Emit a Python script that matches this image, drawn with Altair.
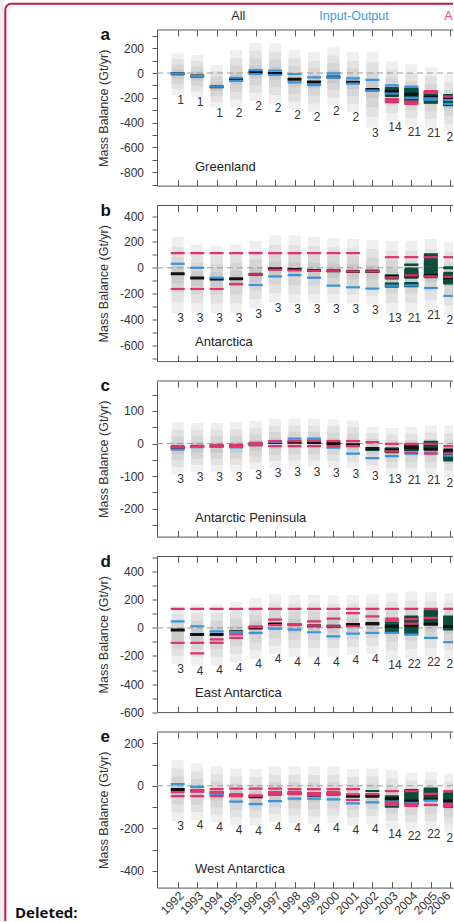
import altair as alt
import pandas as pd

YEARS = [1992, 1993, 1994, 1995, 1996, 1997, 1998, 1999, 2000, 2001, 2002, 2003, 2004, 2005, 2006]
E = []

# ---- a: Greenland ----
GRE_TOP = [159, 145, 64, 185, 245, 239, 185, 167, 207, 167, 172, 95, 70, 45, -10]
GRE_BOT = [-177, -196, -279, -279, -226, -245, -298, -312, -266, -317, -441, -392, -433, -441, -473]
GRE_N = [1, 1, 1, 2, 2, 2, 2, 2, 2, 2, 3, 14, 21, 21, 21]
GRE_ALL = [-5, -24, -110, -50, 8, -3, -51, -73, -32, -75, -132, -150, -172, -195, -215]
GRE_IOM = [[-5], [-24], [-110], [-38, -64], [24, -8], [19, -16], [-8, -75], [-35, -97], [-3, -35],
           [-43, -86], [-56, -142], [-100, -165], [-110, -200], [-205, -215], [-218, -250]]
GRE_ALT = [E, E, E, E, E, E, E, E, E, E, E, [-210, -225, -235], [-230, -240, -250], [-145, -160], [-190]]
GRE_GRA = [E, E, E, E, E, E, E, E, E, E, [-140],
           [-120, -128, -137, -144, -152, -161, -168, -176, -185],
           [-125, -131, -138, -146, -150, -157, -164, -170, -176, -183, -188, -196, -202, -210, -216, -225],
           [-150, -154, -161, -166, -172, -177, -183, -189, -194, -200, -205, -212, -218, -223, -230, -235, -240],
           [-177, -182, -188, -192, -197, -203, -207, -212, -218, -222, -227, -233, -237, -242, -248, -252, -256, -260]]

# ---- b: Antarctica ----
ANT_TOP = [241, 180, 167, 180, 205, 249, 249, 241, 231, 223, 215, 210, 210, 223, 197]
ANT_BOT = [-349, -349, -349, -349, -315, -269, -277, -277, -277, -277, -285, -349, -349, -328, -367]
ANT_N = [3, 3, 3, 3, 3, 3, 3, 3, 3, 3, 3, 13, 21, 21, 21]
ANT_ALL = [-46, -79, -87, -85, -51, -8, -13, -21, -23, -28, -26, -67, -62, -59, -77]
ANT_IOM = [[31], [0], [-77], [-128], [-133], [-67], [-56], [-77], [-138], [-151], [-161], [-138], [-136], [-156], [-218]]
ANT_ALT = [[113, -164], [113, -164], [113, -164], [113, -125], [113, -51], [113, -15], [113, -20], [113, -23],
           [113, -23], [113, -28], [-28], [82, -75], [82, -59], [82, -67], [82, -70]]
ANT_GRA = [E, E, E, E, E, E, E, E, E, E, [-32],
           [-64, -70, -77, -83, -121, -127, -133, -140, -146, -58],
           [26, 21, -18, -25, -33, -40, -46, -53, -61, -67, -72, -78, -117, -124, -130, -137, -143, -6],
           [104, 96, 84, 71, 61, 47, 37, 24, 15, 2, -9, -19, -30, -41, -51, -60, -66, -73],
           [4, -4, -39, -46, -53, -57, -65, -71, -75, -83, -87, -95, -99, -107, -111, -116, -122, -61]]

# ---- c: Antarctic Peninsula ----
APE_TOP = [65, 63, 63, 65, 69, 76, 76, 76, 74, 71, 51, 48, 51, 55, 55]
APE_BOT = [-95, -87, -87, -87, -80, -75, -73, -73, -75, -77, -85, -95, -97, -97, -107]
APE_N = [3, 3, 3, 3, 3, 3, 3, 3, 3, 3, 3, 13, 21, 21, 21]
APE_ALL = [-12, -9, -8, -7, -2, 3, 4, 3, 0, -4, -15, -20, -13, -18, -20]
APE_IOM = [[-19], [-11], [-9], [-12], [-4], [4], [15], [15], [-13], [-31], [-45], [-39], [-31], [-28], [-37]]
APE_ALT = [[-8, -12], [-7, -9], [-6, -8], [-4, -10], [2, -6], [7, -8], [7, -8], [8, -8], [7, -8], [7, -8],
           [4], [-1, -24], [-1, -29], [-1, -31], [-8, -30]]
APE_GRA = [E, E, E, E, E, E, E, E, E, E, [-20],
           [-15, -17, -19, -22, -23, -25, -27, -16, -21, -26],
           [-4, -6, -8, -9, -11, -12, -13, -15, -16, -17, -18, -20, -21, -7, -10, -14, -19, -5],
           [5, 2, 0, -2, -4, -7, -8, -10, -12, -14, -16, -18, 3, -1, -5, -9, -13, -17],
           [-24, -26, -28, -31, -32, -34, -36, -38, -41, -42, -44, -46, -49, -52, -27, -30, -35, -39]]

# ---- d: East Antarctica ----
EAN_TOP = [160, 169, 169, 184, 212, 242, 235, 235, 231, 235, 240, 252, 259, 254, 247]
EAN_BOT = [-259, -271, -266, -247, -219, -188, -205, -205, -205, -195, -188, -228, -219, -207, -224]
EAN_N = [3, 4, 4, 4, 4, 4, 4, 4, 4, 4, 4, 14, 22, 22, 22]
EAN_ALL = [-14, -47, -47, -28, 0, 28, 24, 16, 12, 24, 31, 12, 15, 28, 10]
EAN_IOM = [[47], [12], [-24], [-30], [-35], [-5], [-12], [-31], [-61], [-40], [-35], [-35], [-47], [-71], [-101]]
EAN_ALT = [[136, -106], [136, -106, -181], [136, -82, -106], [136, -47, -71], [136, 12, 5], [136, 59, 20],
           [136, 28, 20], [136, 47, 16], [136, 66, 12], [136, 106, 12], [136, 82], [136, 66, 52],
           [136, 62, 30], [136, 71], [136]]
EAN_GRA = [E, E, E, E, E, E, E, E, E, E, [25],
           [-35, -25, -14, -5, 5, 14, 25, 36, -30, 0],
           [82, 75, 67, 61, 52, 44, 38, 30, 21, 15, 8, 0, -9, -15, -24, -34, -45, 50],
           [129, 118, 107, 98, 88, 79, 68, 57, 49, 38, 30, 24, 114, 101, 85, 61, 45, 34, 26],
           [82, 77, 71, 67, 62, 56, 52, 47, 41, 37, 33, 27, 22, 16, 12, 7, 2, -3, -8, -12]]

# ---- e: West Antarctica ----
WAN_TOP = [121, 105, 92, 81, 78, 89, 89, 89, 89, 78, 81, 74, 63, 66, 58]
WAN_BOT = [-166, -161, -172, -185, -188, -172, -177, -182, -177, -185, -180, -204, -211, -205, -221]
WAN_N = [3, 4, 4, 4, 4, 4, 4, 4, 4, 4, 4, 14, 22, 22, 22]
WAN_ALL = [-17, -23, -34, -44, -52, -39, -36, -44, -39, -49, -49, -60, -72, -64, -72]
WAN_IOM = [[8], [-5], [-39], [-75], [-86], [-72], [-60], [-60], [-64], [-83], [-78], [-75], [-80], [-70], [-85]]
WAN_ALT = [[-49, -30], [-20, -28, -49], [-16, -49, -30], [-13, -49, -40], [-13, -49, -45], [-13, -39, -30],
           [-16, -39, -30], [-16, -44, -35], [-16, -39, -30], [-16, -67, -40], [-39], [-25, -80, -90],
           [-25, -85, -95], [-38, -90], [-25, -85, -95]]
WAN_GRA = [E, E, E, E, E, E, E, E, E, E, [-25, -45],
           [-49, -55, -61, -66, -72, -78, -83, -90, -95, -99],
           [-20, -26, -32, -39, -44, -50, -57, -62, -68, -74, -81, -86, -28, -35, -47, -59, -71, -83],
           [-13, -17, -22, -25, -29, -34, -37, -41, -46, -49, -53, -58, -61, -65, -67, -19, -27, -35, -43],
           [-35, -40, -46, -50, -55, -61, -65, -70, -76, -80, -85, -91, -95, -99, -42, -52, -62, -72]]

A_TICKS = [-900, -800, -700, -600, -500, -400, -300, -200, -100, 0, 100, 200, 300]
B_TICKS = [-700, -600, -500, -400, -300, -200, -100, 0, 100, 200, 300, 400]
C_TICKS = [-250, -200, -150, -100, -50, 0, 50, 100, 150]
D_TICKS = [-600, -500, -400, -300, -200, -100, 0, 100, 200, 300, 400, 500]
E_TICKS = [-400, -300, -200, -100, 0, 100, 200]

LEGEND = ["All", "Input-Output", "A"]

# ---- layout / style ----
PANEL_W = 296
PANEL_H = 155.6
SPACING = 19.5
X_DOMAIN = [1990.937, 2006.139]
BOX_HALF = 0.31
SHADE_FRAC = [1.0, 0.72, 0.46, 0.22]
SHADE_COL = ['#efefef', '#e2e2e2', '#d6d6d6', '#cacaca']
C_ALL = '#111111'
C_IOM = '#3a93dd'
C_ALT = '#e2336c'
C_GRA = '#0b4d3b'
AXC = '#555555'
TXT = '#333333'
RED = '#c5193d'
FONT = 'Liberation Sans'
ONE = pd.DataFrame({'k': [0]})


def boxes_df(top, bot):
    rows = []
    for yr, t, b in zip(YEARS, top, bot):
        mid = (t + b) / 2.0
        half = (t - b) / 2.0
        for frac, col in zip(SHADE_FRAC, SHADE_COL):
            rows.append(dict(x0=yr - BOX_HALF, x1=yr + BOX_HALF,
                             lo=mid - frac * half, hi=mid + frac * half, fill=col))
    return pd.DataFrame(rows)


def dash_df(per_year):
    rows = [dict(year=yr, v=v) for yr, vals in zip(YEARS, per_year) for v in vals]
    return pd.DataFrame(rows, columns=['year', 'v'])


def make_panel(letter, name, top, bot, n, allv, iom, alti, grav, ydom, yticks, lstep, last, pre=(), post=()):
    xs = alt.Scale(domain=X_DOMAIN, nice=False, zero=False)
    ys = alt.Scale(domain=ydom, nice=False, zero=False)
    xaxis = alt.Axis(values=YEARS, title=None, format='d', grid=True, gridDash=[6, PANEL_H - 12],
                     gridColor=AXC, gridOpacity=1, gridWidth=1, ticks=False, domain=True,
                     domainColor=AXC, labels=last, labelAngle=315, labelAlign='right',
                     labelBaseline='top', labelPadding=2, labelFlush=False, labelOverlap=False,
                     labelFontSize=12,
                     labelOffset=alt.condition('datum.value == 2006', alt.value(-6), alt.value(0)))
    yaxis = alt.Axis(values=yticks, title='Mass Balance (Gt/yr)', titleX=-53.5, titleBaseline='middle',
                     titleFontSize=12.5,
                     labelExpr=f"datum.value % {lstep} == 0 ? '' + datum.value : ''",
                     tickSize=5, labelPadding=8.5, labelOverlap=False, labelFlush=False, grid=False,
                     domainColor=AXC, tickColor=AXC)

    def X(f):
        return alt.X(f, scale=xs, axis=xaxis)

    def Y(f):
        return alt.Y(f, scale=ys, axis=yaxis)

    box = alt.Chart(boxes_df(top, bot)).mark_rect(clip=True, opacity=1).encode(
        x=X('x0:Q'), x2='x1:Q', y=Y('lo:Q'), y2='hi:Q',
        fill=alt.Fill('fill:N', scale=None))

    zero = alt.Chart(ONE).mark_rule(color='#9a9a9a', strokeDash=[6, 4], strokeWidth=1).encode(
        y=alt.YDatum(0, scale=ys, axis=yaxis))

    def dashes(vals, color, thick):
        return alt.Chart(dash_df(vals)).mark_tick(orient='horizontal', size=14, thickness=thick,
                                                  color=color, opacity=1, clip=True).encode(
            x=X('year:Q'), y=Y('v:Q'))

    g = dashes(grav, C_GRA, 2)
    k = dashes([[v] for v in allv], C_ALL, 3)
    b = dashes(iom, C_IOM, 2.2)
    r = dashes(alti, C_ALT, 2.2)

    cnt = alt.Chart(pd.DataFrame({'year': YEARS, 'bot': bot, 'n': n})).mark_text(
        baseline='top', align='center', dx=3, dy=0, fontSize=12, color=TXT, font=FONT, clip=True).encode(
        x=X('year:Q'), y=Y('bot:Q'), text='n:N')

    topline = alt.Chart(ONE).mark_rule(color=AXC, strokeWidth=1).encode(
        x=alt.value(0), x2=alt.value(PANEL_W), y=alt.value(0))

    lab = alt.Chart(ONE).mark_text(text=letter, font=FONT, fontWeight='bold', fontSize=17, color='#111',
                                   align='left', baseline='alphabetic').encode(
        x=alt.value(-56.5), y=alt.value(10))
    nm = alt.Chart(ONE).mark_text(text=name, font=FONT, fontSize=13, color='#222',
                                  align='left', baseline='middle').encode(
        x=alt.value(38), y=alt.value(PANEL_H - 19))

    layers = list(pre) + [box, zero, g, k, b, r, cnt, topline, lab, nm] + list(post)
    return alt.layer(*layers).properties(width=PANEL_W, height=PANEL_H)


# decorations of the page (relative to panel a's plot origin)
OX, OY = 157, 30
bg = alt.Chart(ONE).mark_rect(fill='white', fillOpacity=0).encode(
    x=alt.value(-OX), x2=alt.value(454 - OX), y=alt.value(-OY), y2=alt.value(922 - OY))
strip = alt.Chart(ONE).mark_rect(color='#eeeeee').encode(
    x=alt.value(-OX), x2=alt.value(4.3 - OX), y=alt.value(-OY), y2=alt.value(922 - OY))
b_top = alt.Chart(ONE).mark_rule(color=RED, strokeWidth=2).encode(
    x=alt.value(11.3 - OX), x2=alt.value(453 - OX), y=alt.value(3.7 - OY))
b_left = alt.Chart(ONE).mark_rule(color=RED, strokeWidth=2).encode(
    x=alt.value(5.3 - OX), y=alt.value(9.7 - OY), y2=alt.value(921 - OY))
corner = alt.Chart(ONE).mark_arc(color=RED).encode(
    x=alt.value(11.3 - OX), y=alt.value(9.7 - OY), theta=alt.value(4.7124), theta2=alt.value(6.2832),
    radius=alt.value(7), radius2=alt.value(5))
leg_all = alt.Chart(ONE).mark_text(text=LEGEND[0], font=FONT, fontSize=12.5, color='#222',
                                   align='center', baseline='middle').encode(
    x=alt.value(238.3 - OX), y=alt.value(16 - OY))
leg_io = alt.Chart(ONE).mark_text(text=LEGEND[1], font=FONT, fontSize=12.5, color='#3d9be9',
                                  align='center', baseline='middle').encode(
    x=alt.value(354 - OX), y=alt.value(16 - OY))
leg_a = alt.Chart(ONE).mark_text(text=LEGEND[2], font=FONT, fontSize=12.5, color='#e8467c',
                                 align='right', baseline='middle').encode(
    x=alt.value(452.5 - OX), y=alt.value(16 - OY))
deleted = alt.Chart(ONE).mark_text(text='Deleted:', font='Open Sans', fontWeight='bold', fontSize=15,
                                   color='#111', align='left', baseline='bottom').encode(
    x=alt.value(15 - OX), y=alt.value(921 - OY))

pa = make_panel('a', 'Greenland', GRE_TOP, GRE_BOT, GRE_N, GRE_ALL, GRE_IOM, GRE_ALT, GRE_GRA,
                [-908, 347], A_TICKS, 200, False,
                pre=[bg, strip], post=[b_top, b_left, corner, leg_all, leg_io, leg_a, deleted])
pb = make_panel('b', 'Antarctica', ANT_TOP, ANT_BOT, ANT_N, ANT_ALL, ANT_IOM, ANT_ALT, ANT_GRA,
                [-722, 482], B_TICKS, 200, False)
pc = make_panel('c', 'Antarctic Peninsula', APE_TOP, APE_BOT, APE_N, APE_ALL, APE_IOM, APE_ALT, APE_GRA,
                [-286, 192], C_TICKS, 100, False)
pd_ = make_panel('d', 'East Antarctica', EAN_TOP, EAN_BOT, EAN_N, EAN_ALL, EAN_IOM, EAN_ALT, EAN_GRA,
                 [-600, 509], D_TICKS, 200, False)
pe = make_panel('e', 'West Antarctica', WAN_TOP, WAN_BOT, WAN_N, WAN_ALL, WAN_IOM, WAN_ALT, WAN_GRA,
                [-479, 253], E_TICKS, 200, True)

chart = alt.vconcat(pa, pb, pc, pd_, pe, spacing=SPACING, bounds='flush').properties(
    padding=0, background='white'
).configure_view(stroke=None).configure_axis(
    labelFont=FONT, titleFont=FONT, labelFontSize=12, titleFontSize=12,
    labelColor=TXT, titleColor=TXT, titleFontWeight='normal'
)

chart.save("out.html", embed_options={"renderer": "svg", "actions": False})
